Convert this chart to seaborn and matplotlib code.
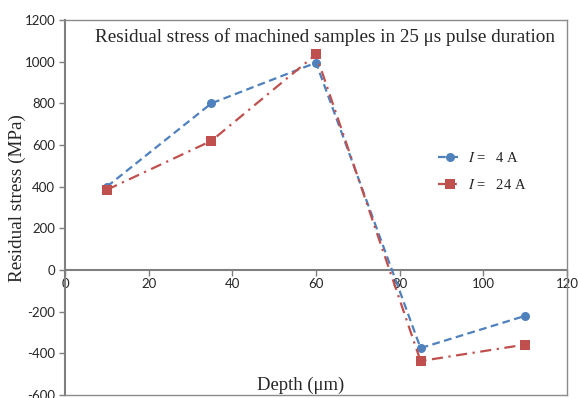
import matplotlib
matplotlib.use("Agg")
import matplotlib.pyplot as plt
import seaborn as sns
import pandas as pd

depth = [10, 35, 60, 85, 110]
stress_4A = [400, 800, 995, -375, -220]
stress_24A = [385, 620, 1035, -437, -358]
series_labels = ["$I$ =   4 A", "$I$ =   24 A"]
xticks = [0, 20, 40, 60, 80, 100, 120]
yticks = [-600, -400, -200, 0, 200, 400, 600, 800, 1000, 1200]

df = pd.DataFrame({
    "Depth": depth * 2,
    "Stress": stress_4A + stress_24A,
    "Series": [series_labels[0]] * len(depth) + [series_labels[1]] * len(depth),
})

sns.set_style("white")
plt.rcParams["mathtext.fontset"] = "stix"

fig = plt.figure(figsize=(5.78, 3.98), dpi=100)
ax = fig.add_axes([65 / 578, 1 - 395 / 398, (567 - 65) / 578, (395 - 20) / 398])

blue = "#4F81BD"
red = "#C0504D"
sns.lineplot(data=df, x="Depth", y="Stress", hue="Series", style="Series",
             palette={series_labels[0]: blue, series_labels[1]: red},
             markers={series_labels[0]: "o", series_labels[1]: "s"},
             dashes={series_labels[0]: (3.5, 2), series_labels[1]: (5, 2.5, 1, 2.5)},
             markersize=6.5, markeredgewidth=0, linewidth=1.6, ax=ax, legend=True)

ax.set_xlim(0, 120)
ax.set_ylim(-600, 1200)
ax.set_yticks(yticks)
ax.set_yticklabels([str(v) for v in yticks], fontfamily="Lato", fontsize=9.5)
ax.set_xticks([])
ax.set_xlabel("")
ax.set_ylabel("Residual stress (MPa)", fontfamily="Liberation Serif", fontsize=13.8)
ax.yaxis.set_label_coords((26 - 65) / 502, (395 - 198) / 375)

for s in ["top", "right", "bottom"]:
    ax.spines[s].set_color("#8a8a8a")
    ax.spines[s].set_linewidth(1.0)
ax.spines["left"].set_color("#7f7f7f")
ax.spines["left"].set_linewidth(1.5)
ax.tick_params(axis="y", direction="out", length=4, width=1, color="#7f7f7f", pad=3, left=True)

sec = ax.secondary_xaxis(600 / 1800)
sec.set_xticks(xticks)
sec.set_xticklabels([str(v) for v in xticks], fontfamily="Lato", fontsize=9.5)
sec.spines["bottom"].set_color("#7f7f7f")
sec.spines["bottom"].set_linewidth(1.5)
sec.tick_params(axis="x", direction="out", length=4, width=1, color="#7f7f7f", pad=2, bottom=True)

ax.text((301 - 65) / 502, (395 - 385) / 375, "Depth (\u03bcm)", transform=ax.transAxes,
        ha="center", va="center", fontfamily="Liberation Serif", fontsize=13.4)
ax.text(0.06, (395 - 37) / 375, "Residual stress of machined samples in 25 \u03bcs pulse duration",
        transform=ax.transAxes, ha="left", va="center",
        fontfamily="Liberation Serif", fontsize=13.8)

leg = ax.legend(loc="center left", bbox_to_anchor=(0.717, 0.596), frameon=False,
                prop={"family": "Liberation Serif", "size": 10.5}, handlelength=1.65,
                handletextpad=0.4, labelspacing=0.85)

fig.savefig("out.png", dpi=100)
